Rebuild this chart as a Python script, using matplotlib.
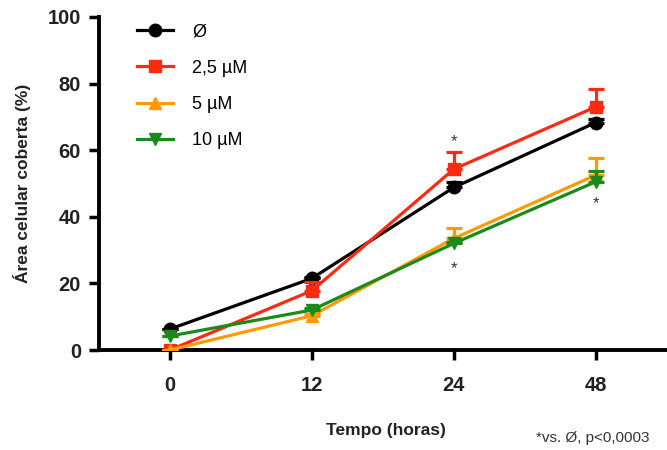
import numpy as np
import matplotlib
matplotlib.use("Agg")
import matplotlib.pyplot as plt
from matplotlib.lines import Line2D

plt.rcParams['font.family'] = ['Liberation Sans', 'DejaVu Sans']

times = ["0", "12", "24", "48"]
labels = ["Ø", "2,5 µM", "5 µM", "10 µM"]
colors = ["#000000", "#ff2a12", "#ff9a00", "#1a8a1a"]
markers = ["o", "s", "^", "v"]

ctrl = [6.3, 21.5, 48.8, 68.3]
ctrl_err = [0.0, 0.5, 1.8, 1.0]
um25 = [0.0, 17.8, 54.3, 73.0]
um25_err = [0.0, 2.5, 5.3, 5.5]
um5 = [0.0, 10.3, 33.5, 52.5]
um5_err = [0.0, 0.5, 3.0, 5.3]
um10 = [4.2, 12.0, 32.0, 50.5]
um10_err = [0.0, 0.5, 0.5, 3.3]

series = [(ctrl, ctrl_err), (um25, um25_err), (um5, um5_err), (um10, um10_err)]

# asterisks: (category index, y position)
stars = [(2, 62.5), (2, 24.5), (3, 44.0)]

fig = plt.figure(figsize=(6.67, 4.5), dpi=100)
ax = fig.add_axes([99 / 667, 100 / 450, 1 - 99 / 667 + 0.01, 333 / 450])

x = np.arange(len(times))
order = [3, 2, 0, 1]
for i in order:
    vals, err = series[i]
    ax.errorbar(x, vals, yerr=[np.zeros(len(err)), err], color=colors[i],
                marker=markers[i], markersize=9, linewidth=2.3,
                elinewidth=2.3, capsize=6, capthick=2.3, zorder=3 + i)

for xi, yi in stars:
    ax.text(xi, yi, "*", ha="center", va="center", fontsize=12, color="#333333")

ax.set_xlim(-0.5, 3.55)
ax.set_ylim(0, 100)
ax.set_xticks(x)
ax.set_xticklabels(times)
ax.set_yticks([0, 20, 40, 60, 80, 100])

for s in ["top", "right"]:
    ax.spines[s].set_visible(False)
for s in ["left", "bottom"]:
    ax.spines[s].set_linewidth(2.8)
ax.tick_params(axis="both", width=2.5, length=7, labelsize=14.5)
ax.tick_params(axis="x", pad=12)
ax.tick_params(axis="y", pad=6)
for t in ax.get_xticklabels() + ax.get_yticklabels():
    t.set_fontweight("bold")
    t.set_color("#222222")

ax.set_xlabel("Tempo (horas)", fontsize=12.5, fontweight="bold", labelpad=20,
              color="#222222")
ax.set_ylabel("Área celular coberta (%)", fontsize=12.5, fontweight="bold",
              labelpad=12, color="#222222")

handles = [Line2D([], [], color=c, marker=m, markersize=9, linewidth=2.3)
           for c, m in zip(colors, markers)]
ax.legend(handles, labels, loc="upper left",
          bbox_to_anchor=(0.037, 1.03), frameon=False, fontsize=13,
          labelspacing=1.07, handlelength=2.0, handletextpad=1.1)

fig.text(650 / 667, 1 - 438 / 450, "*vs. Ø, p<0,0003", ha="right", va="center",
         fontsize=11, color="#333333")

fig.savefig("out.png", dpi=100)
